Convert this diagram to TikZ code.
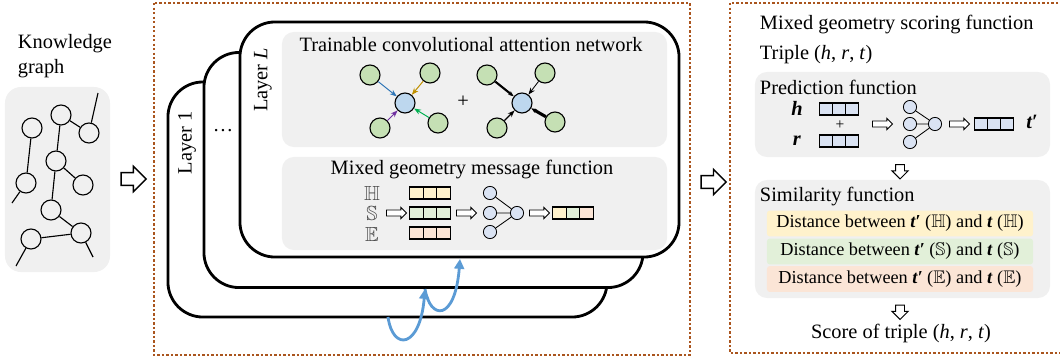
\documentclass[tikz,border=0pt]{standalone}
\usepackage{fontspec}
\usepackage{amssymb}
\setmainfont{Liberation Serif}
\usetikzlibrary{shapes.arrows,arrows.meta}

\definecolor{dotbrown}{RGB}{170,85,30}
\definecolor{panelgray}{RGB}{240,240,240}
\definecolor{nodegreen}{RGB}{197,224,180}
\definecolor{nodeblue}{RGB}{189,215,238}
\definecolor{cellblue}{RGB}{218,227,243}
\definecolor{cellyellow}{RGB}{255,242,204}
\definecolor{cellgreen}{RGB}{226,240,217}
\definecolor{cellpink}{RGB}{251,229,214}
\definecolor{curveblue}{RGB}{91,155,213}
\definecolor{arrblue}{RGB}{46,117,182}
\definecolor{arrgold}{RGB}{191,144,0}
\definecolor{arrpurple}{RGB}{112,48,160}
\definecolor{arrgreen}{RGB}{0,176,80}

\begin{document}
\begin{tikzpicture}[x=0.025cm, y=-0.025cm, font=\fontsize{14.5}{17.5}\selectfont,
  dotbox/.style={draw=dotbrown, line width=1.6pt, dash pattern=on 1.6pt off 1.6pt},
  layer/.style={draw, line width=2pt, rounded corners=0.875cm, fill=white, minimum width=10.975cm, minimum height=5.875cm},
  panel/.style={fill=panelgray, rounded corners=0.3cm, minimum width=9.625cm},
  kgnode/.style={circle, draw, line width=0.8pt, minimum size=0.5cm, inner sep=0pt},
  starnode/.style={circle, draw, line width=0.8pt, fill=nodegreen, minimum size=0.5cm, inner sep=0pt},
  netnode/.style={circle, draw, line width=0.6pt, fill=cellblue, minimum size=0.33cm, inner sep=0pt},
  cell/.style={draw, line width=0.8pt, minimum width=0.33cm, minimum height=0.3cm, inner sep=0pt},
  bigarrow/.style={single arrow, draw, line width=1pt, fill=white, inner xsep=0pt, inner ysep=0.14cm, minimum height=0.625cm, single arrow head extend=0.16cm},
  smallarrow/.style={single arrow, draw, line width=0.6pt, fill=white, inner xsep=0pt, inner ysep=0.065cm, minimum height=0.5cm, single arrow head extend=0.065cm},
  downarrow/.style={single arrow, draw, line width=0.7pt, fill=white, rotate=-90, inner xsep=0pt, inner ysep=0.1cm, minimum height=0.36cm, single arrow head extend=0.09cm},
  bar/.style={rounded corners=2pt, minimum width=6.65cm, minimum height=0.57cm, font=\fontsize{13}{15}\selectfont},
  curvearrow/.style={draw=curveblue, line width=2pt, -{Triangle[length=7pt,width=7pt]}}]
\useasboundingbox (0,0) rectangle (1060,362);

% Knowledge graph (left)
\node[anchor=west, align=left] (kgtitle) at (13,56) {Knowledge\\graph};
\node[panel, minimum width=2.625cm, minimum height=4.625cm, rounded corners=0.4cm] (kgbox) at (57.5,179.5) {};
\node[kgnode] (g1) at (32,128) {};
\node[kgnode] (g2) at (61,115) {};
\node[kgnode] (g3) at (89,133) {};
\node[kgnode] (g4) at (56,161) {};
\node[kgnode] (g5) at (26,183) {};
\node[kgnode] (g6) at (83,185) {};
\node[kgnode] (g7) at (51,210) {};
\node[kgnode] (g8) at (81,233) {};
\node[kgnode] (g9) at (31,239) {};
\coordinate (f1) at (98,93);
\coordinate (f2) at (12,203);
\coordinate (f3) at (93,257);
\coordinate (f4) at (16,266);
\draw[line width=0.8pt] (f1) -- (g3) (g2) -- (g3) (g2) -- (g4) (g1) -- (g5) (g5) -- (f2)
  (g4) -- (g6) (g4) -- (g7) (g7) -- (g8) (g8) -- (g9) (g8) -- (f3) (g9) -- (f4);

\node[bigarrow] (toenc) at (130.5,179) {};

% Encoder layers (middle)
\draw[dotbox] (154,3) rectangle (690,355);
\node[layer] (lay1) at (387.5,199.5) {};
\node[layer] (lay2) at (423.5,170) {};
\node[layer] (layL) at (459.5,139.5) {};
\node[rotate=90] (lab1) at (187,143) {Layer 1};
\node (labdots) at (223,131) {\dots};
\node[rotate=90] (labL) at (263,80) {Layer \textit{L}};

\node[panel, minimum height=2.875cm] (attn) at (474.5,89.5) {};
\node[panel, minimum height=2.325cm] (msg) at (474.5,203.5) {};
\node (attntitle) at (471,45) {Trainable convolutional attention network};
\node (msgtitle) at (472,170) {Mixed geometry message function};

% attention stars
\node[starnode, fill=nodeblue] (c1) at (405,103) {};
\node[starnode] (a1) at (370,75) {};
\node[starnode] (b1) at (430,73) {};
\node[starnode] (d1) at (380,128) {};
\node[starnode] (e1) at (438,123) {};
\draw[-{Stealth[length=5pt]}, line width=0.7pt, arrblue] (a1) -- (c1);
\draw[-{Stealth[length=5pt]}, line width=0.7pt, arrgold] (b1) -- (c1);
\draw[-{Stealth[length=5pt]}, line width=0.7pt, arrpurple] (d1) -- (c1);
\draw[-{Stealth[length=5pt]}, line width=0.7pt, arrgreen] (e1) -- (c1);
\node (plus1) at (463,102) {+};
\node[starnode, fill=nodeblue] (c2) at (522,103) {};
\node[starnode] (a2) at (487,75) {};
\node[starnode] (b2) at (545,73) {};
\node[starnode] (d2) at (497,128) {};
\node[starnode] (e2) at (555,122) {};
\draw[-{Stealth[length=4pt]}, line width=1.5pt] (a2) -- (c2);
\draw[-{Stealth[length=5pt]}, line width=0.6pt] (b2) -- (c2);
\draw[-{Stealth[length=5pt]}, line width=0.9pt] (d2) -- (c2);
\draw[-{Stealth[length=4pt]}, line width=2.2pt] (e2) -- (c2);

% message function
\node[black!70] (geoH) at (372,193) {$\mathbb{H}$};
\node[black!70] (geoS) at (372,213) {$\mathbb{S}$};
\node[black!70] (geoE) at (372,234) {$\mathbb{E}$};
\node[smallarrow] (msgarr1) at (395,213) {};
\foreach \i/\cx in {1/416.5,2/430,3/443.5} {
  \node[cell, fill=cellyellow] (vh\i) at (\cx,193) {};
  \node[cell, fill=cellgreen] (vs\i) at (\cx,213) {};
  \node[cell, fill=cellpink] (ve\i) at (\cx,233) {};
}
\node[smallarrow] (msgarr2) at (465,213) {};
\node[netnode] (n1) at (490,193) {};
\node[netnode] (n2) at (490,213) {};
\node[netnode] (n3) at (490,232) {};
\node[netnode] (n4) at (517,213) {};
\draw[line width=0.6pt] (n1) -- (n4) (n2) -- (n4) (n3) -- (n4);
\node[smallarrow] (msgarr3) at (538,213) {};
\node[cell, fill=cellyellow] (vo1) at (559.5,213) {};
\node[cell, fill=cellgreen] (vo2) at (573,213) {};
\node[cell, fill=cellpink] (vo3) at (586.5,213) {};

% stacking arrows
\coordinate (loop0) at (388,317);
\coordinate (loop1) at (425,289);
\coordinate (loop2) at (460,259);
\draw[curvearrow] (loop0) .. controls (393,352) and (420,348) .. (loop1);
\draw[curvearrow] (loop1) .. controls (430,320) and (455,322) .. (loop2);

\node[bigarrow] (toscore) at (710.5,182) {};

% Scoring function (right)
\draw[dotbox] (730,3) rectangle (1066,353);
\node[anchor=west] (scoretitle) at (755,25) {Mixed geometry scoring function};
\node[anchor=west] (triple) at (755,55) {Triple (\textit{h}, \textit{r}, \textit{t})};
\node[panel, minimum width=7.375cm, minimum height=2.125cm] (pred) at (902.5,114.5) {};
\node[anchor=west] (predtitle) at (755,87) {Prediction function};
\node (hlab) at (797,108) {\textbf{\textit{h}}};
\node (rlab) at (797,141) {\textbf{\textit{r}}};
\foreach \i/\cx in {1/826,2/839,3/852} {
  \node[cell, fill=cellblue] (ch\i) at (\cx,109) {};
  \node[cell, fill=cellblue] (cr\i) at (\cx,141) {};
  \node[cell, fill=cellblue] (ct\i) at (\cx+155,124) {};
}
\node[font=\fontsize{11}{13}\selectfont] (plus2) at (840,125) {+};
\node[smallarrow] (predarr1) at (881,124) {};
\node[netnode] (p1) at (910,107) {};
\node[netnode] (p2) at (910,124) {};
\node[netnode] (p3) at (910,142) {};
\node[netnode] (p4) at (935,124) {};
\draw[line width=0.6pt] (p1) -- (p4) (p2) -- (p4) (p3) -- (p4);
\node[smallarrow] (predarr2) at (958,124) {};
\node (tlab) at (1032,122) {\textbf{\textit{t′}}};
\node[downarrow] (down1) at (900,169.5) {};

\node[panel, minimum width=7.375cm, minimum height=2.95cm] (sim) at (902.5,239) {};
\node[anchor=west] (simtitle) at (755,197) {Similarity function};
\node[bar, fill=cellyellow] (distH) at (900,223.5) {Distance between \textbf{\textit{t′}} ($\mathbb{H}$) and \textbf{\textit{t}} ($\mathbb{H}$)};
\node[bar, fill=cellgreen] (distS) at (900,251.5) {Distance between \textbf{\textit{t′}} ($\mathbb{S}$) and \textbf{\textit{t}} ($\mathbb{S}$)};
\node[bar, fill=cellpink] (distE) at (900,279) {Distance between \textbf{\textit{t′}} ($\mathbb{E}$) and \textbf{\textit{t}} ($\mathbb{E}$)};
\node[downarrow] (down2) at (900,310) {};
\node (score) at (901,333) {Score of triple (\textit{h}, \textit{r}, \textit{t})};
\end{tikzpicture}
\end{document}
